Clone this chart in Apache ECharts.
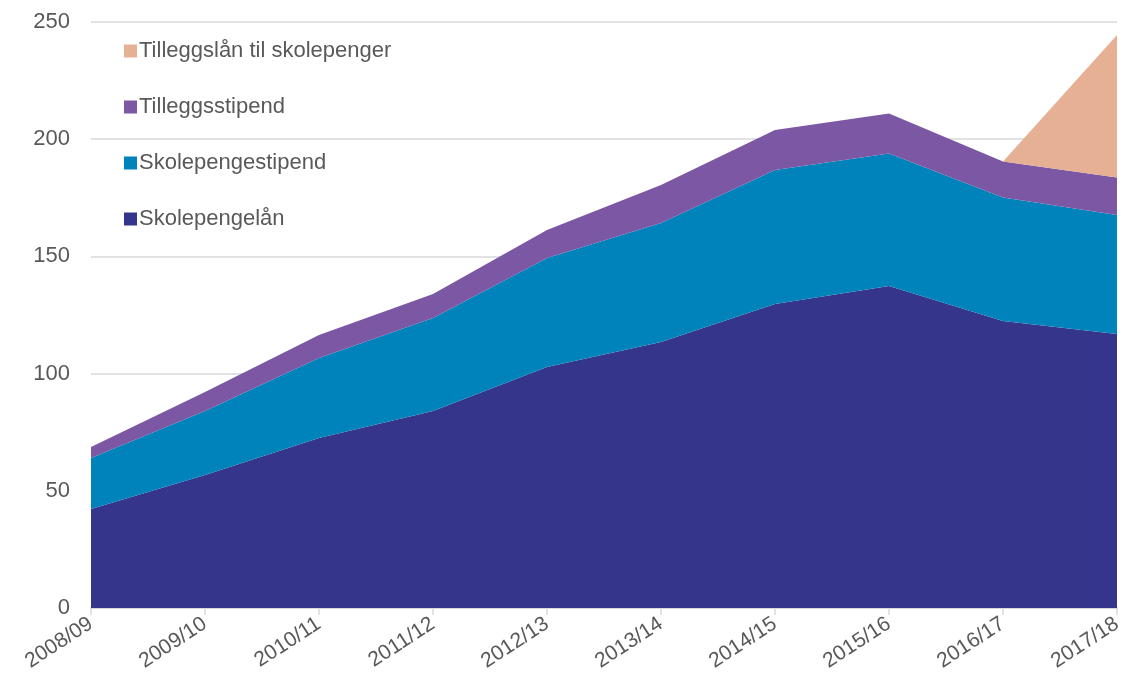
<!DOCTYPE html>
<html>
<head>
<meta charset="utf-8">
<script src="https://cdn.jsdelivr.net/npm/echarts@6/dist/echarts.min.js"></script>
<style>
  html, body { margin: 0; padding: 0; background: #fff; }
  #chart { width: 1127px; height: 691px; }
</style>
</head>
<body>
<div id="chart"></div>
<script>
// kategorier og verdier (lest av figuren)
var years = ['2008/09', '2009/10', '2010/11', '2011/12', '2012/13', '2013/14', '2014/15', '2015/16', '2016/17', '2017/18'];
var skolepengelaan = [42.2, 56.7, 72.5, 84.0, 102.8, 113.5, 129.7, 137.4, 122.4, 116.9];
var skolepengestipend = [21.8, 27.3, 34.2, 39.7, 46.5, 50.7, 57.2, 56.5, 52.7, 50.8];
var tilleggsstipend = [4.7, 8.2, 9.8, 10.3, 12.0, 16.3, 17.0, 17.1, 15.4, 16.0];
var tilleggslaan = ['-', '-', '-', '-', '-', '-', '-', '-', 0, 60.8];

var font = 'Liberation Sans, Arial, sans-serif';
var textColor = '#595959';

var myChart = echarts.init(document.getElementById('chart'));

function areaSeries(name, data, color) {
    return {
        name: name,
        type: 'line',
        stack: 'total',
        data: data,
        symbol: 'none',
        lineStyle: { width: 0 },
        itemStyle: { color: color },
        areaStyle: { color: color, opacity: 1 }
    };
}

var option = {
    animation: false,
    backgroundColor: '#ffffff',
    grid: { left: 91, right: 10, top: 22, bottom: 83 },
    legend: {
        orient: 'vertical',
        left: 119,
        top: 35,
        itemGap: 34,
        itemWidth: 13,
        itemHeight: 13,
        icon: 'rect',
        textStyle: { fontFamily: font, fontSize: 22, color: textColor, padding: [0, 0, 0, -3] },
        data: ['Tilleggslån til skolepenger', 'Tilleggsstipend', 'Skolepengestipend', 'Skolepengelån']
    },
    xAxis: {
        type: 'category',
        data: years,
        boundaryGap: false,
        axisLine: { lineStyle: { color: '#d9d9d9', width: 2 } },
        axisTick: { show: true, length: 7, lineStyle: { color: '#d9d9d9', width: 1.5 } },
        axisLabel: { rotate: 33, fontFamily: font, fontSize: 21, color: textColor, margin: 14 }
    },
    yAxis: {
        type: 'value',
        min: 0,
        max: 250,
        interval: 50,
        axisLine: { show: false },
        axisTick: { show: false },
        splitLine: { lineStyle: { color: '#d9d9d9', width: 1.5 } },
        axisLabel: { fontFamily: font, fontSize: 22, color: textColor, margin: 21 }
    },
    series: [
        areaSeries('Skolepengelån', skolepengelaan, '#35358c'),
        areaSeries('Skolepengestipend', skolepengestipend, '#0083ba'),
        areaSeries('Tilleggsstipend', tilleggsstipend, '#7b57a4'),
        areaSeries('Tilleggslån til skolepenger', tilleggslaan, '#e6b094')
    ]
};

myChart.setOption(option);
</script>
</body>
</html>
